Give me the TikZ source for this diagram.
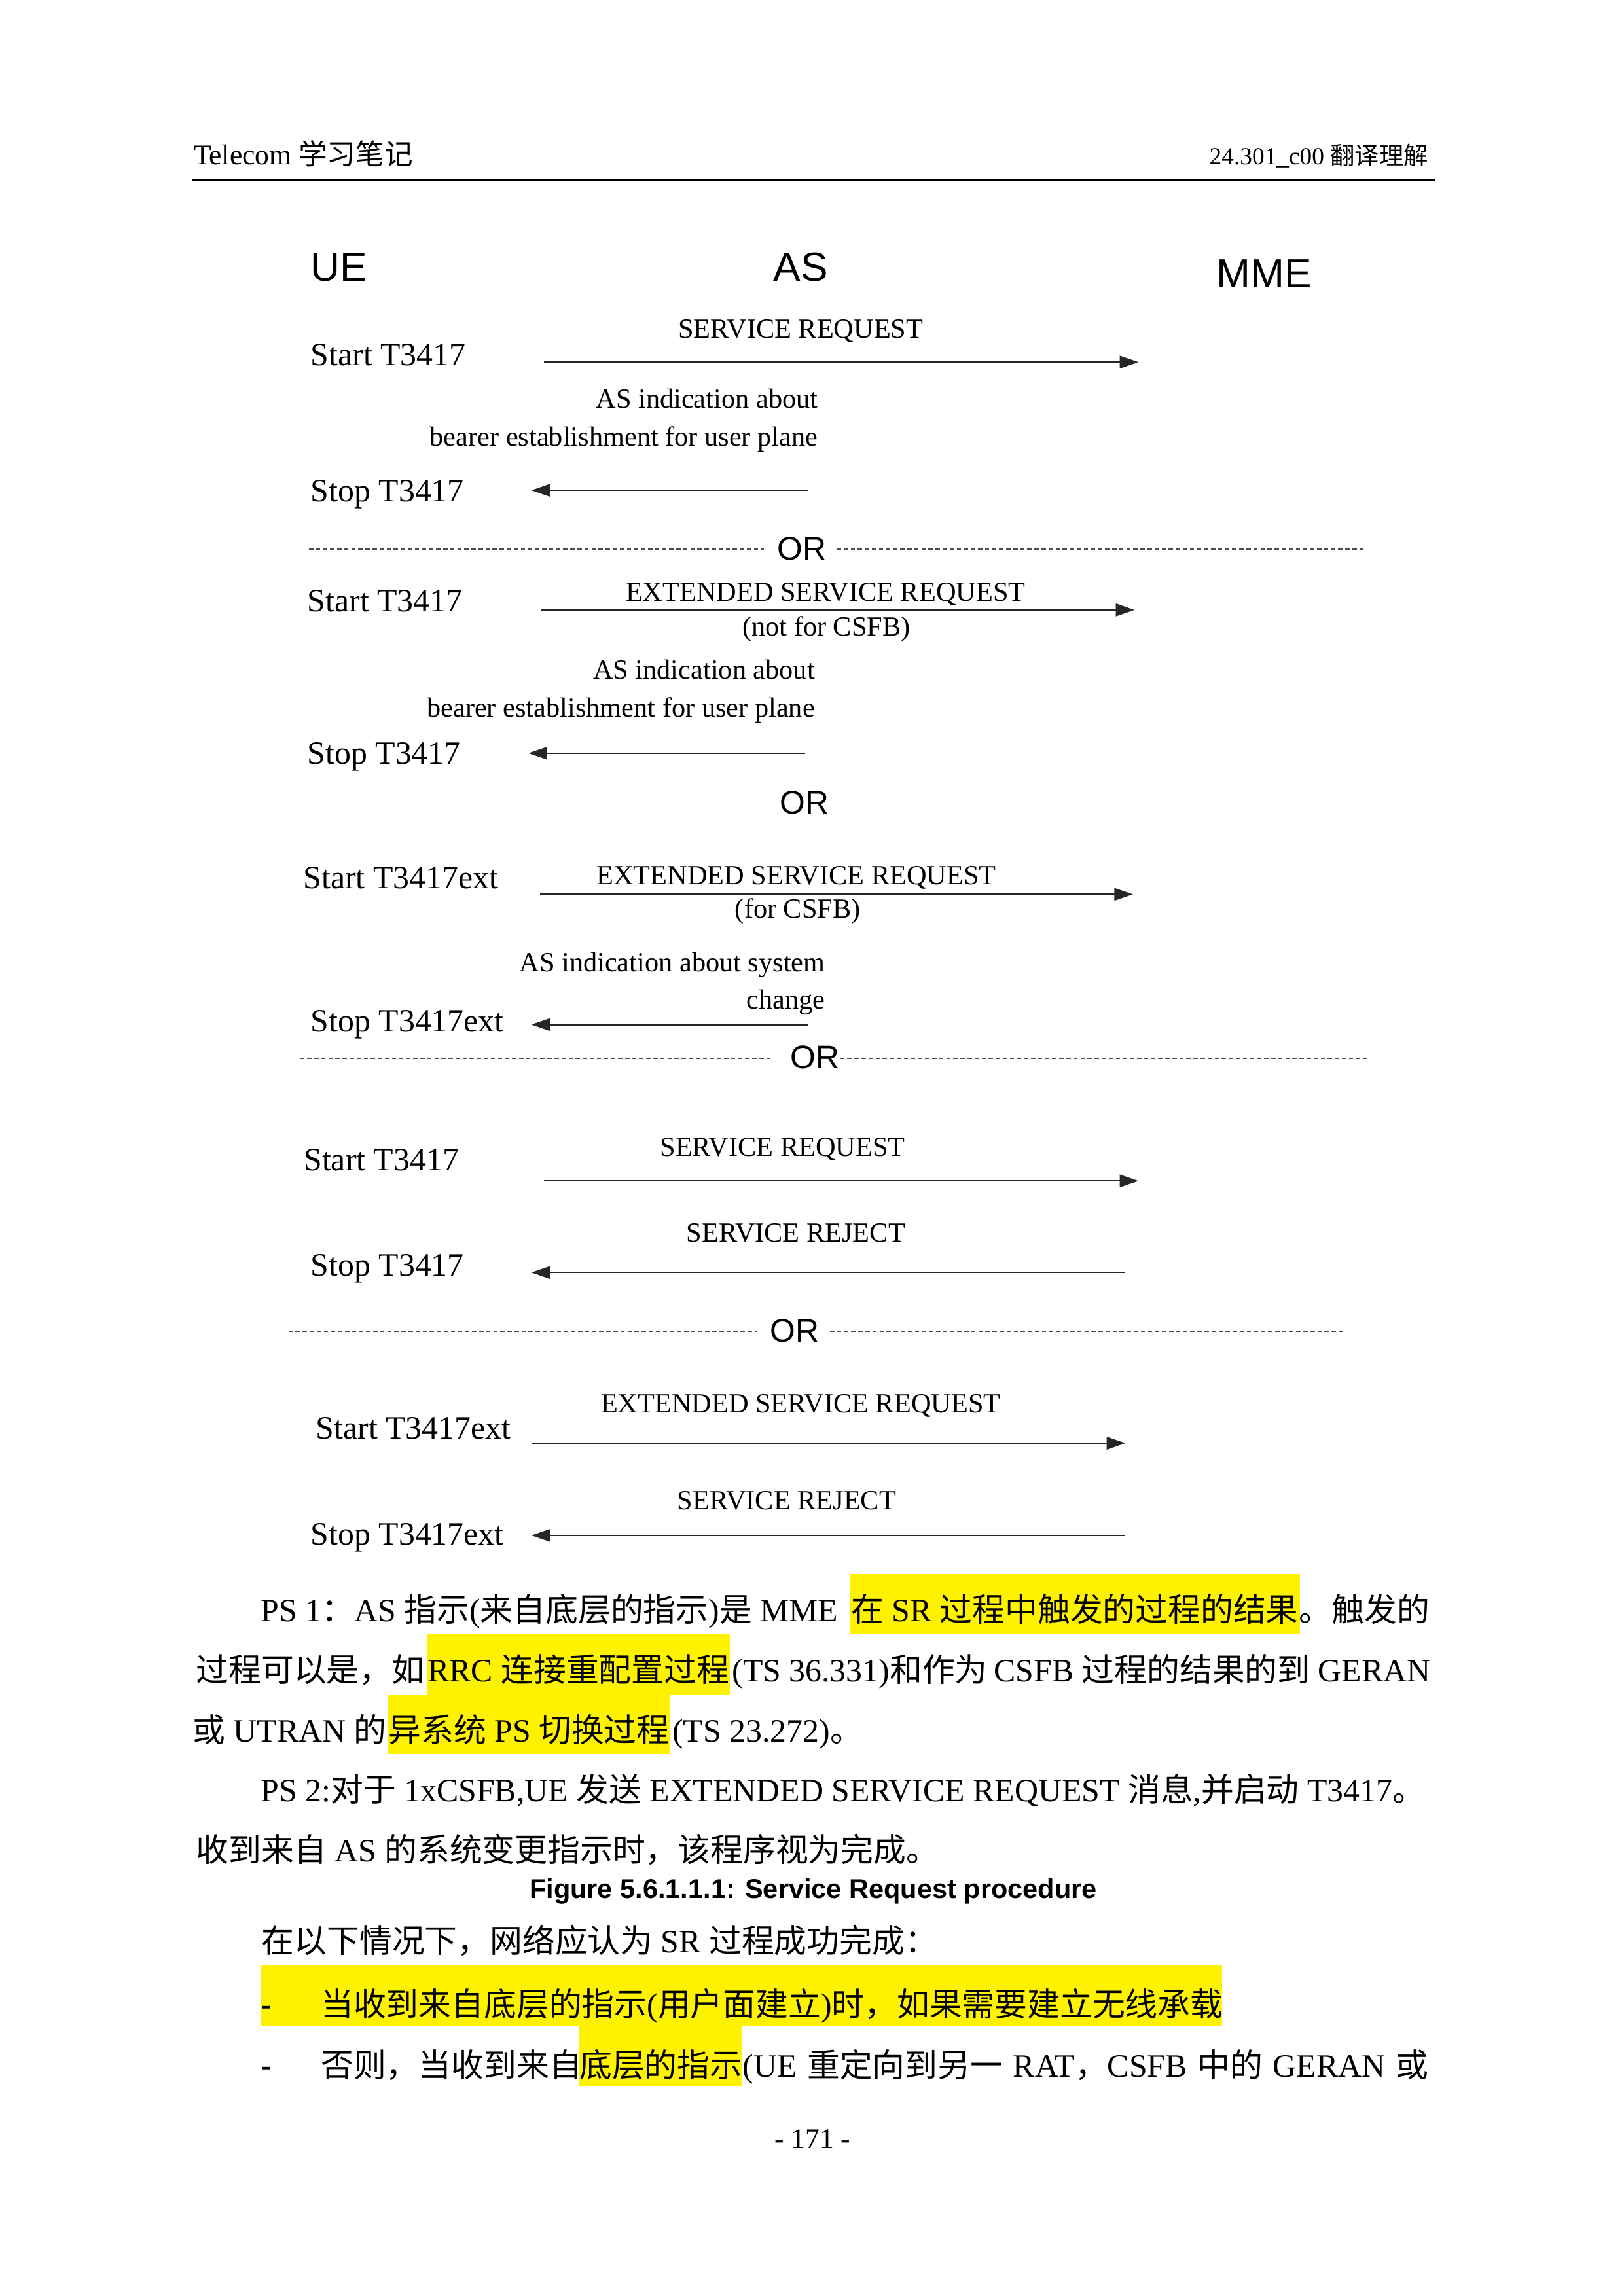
\documentclass[tikz,border=0pt]{standalone}
\usepackage{fontspec}
\setmainfont{Liberation Serif}
\newfontfamily\zhfont{Noto Sans CJK SC}
\newfontfamily\arialfont{Liberation Sans}
\newcommand\zh[1]{{\zhfont #1}}
\usetikzlibrary{arrows.meta}
\tikzset{
  party/.style={font=\arialfont\fontsize{15}{18}\selectfont, inner sep=0pt},
  timer/.style={font=\fontsize{12}{14}\selectfont, inner sep=0pt, anchor=base west},
  msglbl/.style={font=\fontsize{10.2}{12}\selectfont, inner sep=0pt},
  msg/.style={draw=black!85, line width=0.55pt, -{Triangle[length=6.9pt,width=4.6pt]}},
  sepline/.style={draw=black!70, line width=0.4pt, dash pattern=on 1.6pt off 1pt},
  orlbl/.style={font=\arialfont\fontsize{12}{14}\selectfont, inner sep=0pt, anchor=base},
  body/.style={font=\fontsize{12}{14}\selectfont, inner sep=0pt},
  hlbox/.style={fill=yellow, draw=none},
}
\begin{document}
\begin{tikzpicture}[x=0.18936mm, y=-0.18936mm]
\useasboundingbox (0,0) rectangle (1109,1568.66);
\fill[white] (0,0) rectangle (1109,1568.66);

% ---------- header ----------
\node[inner sep=0pt, font=\fontsize{10.5}{12}\selectfont, anchor=base west] (hdrl) at (132,112.6) {Telecom \zh{学习笔记}};
\node[inner sep=0pt, font=\fontsize{9}{11}\selectfont, anchor=base east] (hdrr) at (976,112.6) {24.301\_c00 \zh{翻译理解}};
\coordinate (rulel) at (131,122.6);
\coordinate (ruler) at (980,122.6);
\draw[line width=0.65pt] (rulel) -- (ruler);

% ---------- participants ----------
\node[party, anchor=base west] (ue) at (212,192) {UE};
\node[party, anchor=base] (as) at (547,192) {AS};
\node[party, anchor=base] (mme) at (863.5,196.5) {MME};

% ---------- timers ----------
\node[timer] (t1) at (212,249.6) {Start T3417};
\node[timer] (t2) at (212,342.6) {Stop T3417};
\node[timer] (t3) at (209.7,418) {Start T3417};
\node[timer] (t4) at (209.7,522) {Stop T3417};
\node[timer] (t5) at (207,607) {Start T3417ext};
\node[timer] (t6) at (212,705) {Stop T3417ext};
\node[timer] (t7) at (207.3,799.7) {Start T3417};
\node[timer] (t8) at (212,871.7) {Stop T3417};
\node[timer] (t9) at (215.6,983) {Start T3417ext};
\node[timer] (t10) at (212,1055.5) {Stop T3417ext};

% ---------- message labels ----------
\node[msglbl, anchor=base] (m1) at (547,230.8) {SERVICE REQUEST};
\node[msglbl, anchor=base east] (m2) at (559,278.7) {AS indication about};
\node[msglbl, anchor=base east] (m3) at (559,304.6) {bearer establishment for user plane};
\node[msglbl, anchor=base] (m4) at (564,410.6) {EXTENDED SERVICE REQUEST};
\node[msglbl, anchor=base] (m5) at (564.5,434.6) {(not for CSFB)};
\node[msglbl, anchor=base east] (m6) at (557,464) {AS indication about};
\node[msglbl, anchor=base east] (m7) at (557,490) {bearer establishment for user plane};
\node[msglbl, anchor=base] (m8) at (544,604.5) {EXTENDED SERVICE REQUEST};
\node[msglbl, anchor=base] (m9) at (545,627.3) {(for CSFB)};
\node[msglbl, anchor=base east] (m10) at (564,664) {AS indication about system};
\node[msglbl, anchor=base east] (m11) at (564,689.5) {change};
\node[msglbl, anchor=base] (m12) at (534.6,790) {SERVICE REQUEST};
\node[msglbl, anchor=base] (m13) at (543.7,848.3) {SERVICE REJECT};
\node[msglbl, anchor=base] (m14) at (547,965) {EXTENDED SERVICE REQUEST};
\node[msglbl, anchor=base] (m15) at (537.5,1031.6) {SERVICE REJECT};

% ---------- arrows ----------
\coordinate (a1s) at (371.6,247.4);  \coordinate (a1e) at (777.7,247.4);
\coordinate (a2s) at (552,335);      \coordinate (a2e) at (363,335);
\coordinate (a3s) at (369.6,416.7);  \coordinate (a3e) at (775,416.7);
\coordinate (a4s) at (550,514.6);    \coordinate (a4e) at (361,514.6);
\coordinate (a5s) at (369,611);      \coordinate (a5e) at (774,611);
\coordinate (a6s) at (552,700);      \coordinate (a6e) at (363,700);
\coordinate (a7s) at (371.6,806.8);  \coordinate (a7e) at (777.7,806.8);
\coordinate (a8s) at (768.8,869.4);  \coordinate (a8e) at (363,869.4);
\coordinate (a9s) at (363,986);      \coordinate (a9e) at (768.8,986);
\coordinate (a10s) at (768.8,1049);  \coordinate (a10e) at (363,1049);
\foreach \i in {1,...,10} { \draw[msg] (a\i s) -- (a\i e); }

% ---------- OR separators ----------
\coordinate (s1a) at (211,375.3); \coordinate (s1b) at (522,375.3);
\coordinate (s1c) at (571.5,375.3); \coordinate (s1d) at (931,375.3);
\node[orlbl] (or1) at (547.6,382.4) {OR};
\coordinate (s2a) at (211,548); \coordinate (s2b) at (522,548);
\coordinate (s2c) at (571.5,548); \coordinate (s2d) at (930,548);
\node[orlbl] (or2) at (549.5,556) {OR};
\coordinate (s3a) at (205,723); \coordinate (s3b) at (526,723);
\coordinate (s3c) at (574,723); \coordinate (s3d) at (934,723);
\node[orlbl] (or3) at (556.7,730) {OR};
\coordinate (s4a) at (197,909.7); \coordinate (s4b) at (517,909.7);
\coordinate (s4c) at (567,909.7); \coordinate (s4d) at (920,909.7);
\node[orlbl] (or4) at (543,917) {OR};
\foreach \i in {1,...,4} {
  \draw[sepline] (s\i a) -- (s\i b);
  \draw[sepline] (s\i c) -- (s\i d);
}

% ---------- highlights ----------
\fill[hlbox] (581,1075.6) rectangle (888,1116.7);
\fill[hlbox] (291.8,1116.7) rectangle (498.7,1157.5);
\fill[hlbox] (265,1157.5) rectangle (457.8,1198.5);
\fill[hlbox] (178,1343) rectangle (835,1384);
\fill[hlbox] (395.2,1384) rectangle (507,1425);

% ---------- body text ----------
\node[body, anchor=base west] (l1a) at (178,1108) {PS 1\zh{：}AS \zh{指示}(\zh{来自底层的指示})\zh{是} MME};
\node[body, anchor=base west] (l1b) at (581,1108) {\zh{在} SR \zh{过程中触发的过程的结果}};
\node[body, anchor=base east] (l1c) at (977,1108) {\zh{。触发的}};

\node[body, anchor=base west] (l2a) at (133.6,1149) {\zh{过程可以是，如}};
\node[body, anchor=base west] (l2b) at (291.8,1149) {RRC \zh{连接重配置过程}};
\node[body, anchor=base west] (l2c) at (499.8,1149) {(TS 36.331)\zh{和作为}};
\node[body, anchor=base west] (l2d) at (678.7,1149) {CSFB \zh{过程的结果的到}};
\node[body, anchor=base east] (l2e) at (977.6,1149) {GERAN};

\node[body, anchor=base east] (l3a) at (264.5,1190) {\zh{或} UTRAN \zh{的}};
\node[body, anchor=base west] (l3b) at (265,1190) {\zh{异系统} PS \zh{切换过程}};
\node[body, anchor=base west] (l3c) at (459,1190) {(TS 23.272)\zh{。}};

\node[body, anchor=base west] (l4) at (178,1231) {PS 2:\zh{对于} 1xCSFB,UE \zh{发送} EXTENDED SERVICE REQUEST \zh{消息},\zh{并启动} T3417\zh{。}};
\node[body, anchor=base west] (l5) at (133.6,1272) {\zh{收到来自} AS \zh{的系统变更指示时，该程序视为完成。}};

\node[inner sep=0pt, font=\arialfont\bfseries\fontsize{10}{12}\selectfont, anchor=base] (cap) at (555.6,1297) {Figure 5.6.1.1.1: Service Request procedure};

\node[body, anchor=base west] (l6) at (178.4,1334) {\zh{在以下情况下，网络应认为} SR \zh{过程成功完成：}};

\node[body, font=\arialfont\fontsize{12}{14}\selectfont, anchor=base west] (d7) at (178,1377.5) {-};
\node[body, anchor=base west] (l7) at (218.9,1377.5) {\zh{当收到来自底层的指示}(\zh{用户面建立})\zh{时，如果需要建立无线承载}};

\node[body, font=\arialfont\fontsize{12}{14}\selectfont, anchor=base west] (d8) at (178,1419) {-};
\node[body, anchor=base west] (l8a) at (218.9,1419) {\zh{否则，当收到来自}};
\node[body, anchor=base west] (l8b) at (395.5,1419) {\zh{底层的指示}};
\node[body, anchor=base west] (l8c) at (507,1419) {\makebox[252.3pt][s]{(UE \zh{重定向到另一} RAT\zh{，}CSFB \zh{中的} GERAN \zh{或}}};

\node[inner sep=0pt, font=\fontsize{10.5}{12}\selectfont, anchor=base] (pg) at (555,1468) {- 171 -};
\end{tikzpicture}
\end{document}
